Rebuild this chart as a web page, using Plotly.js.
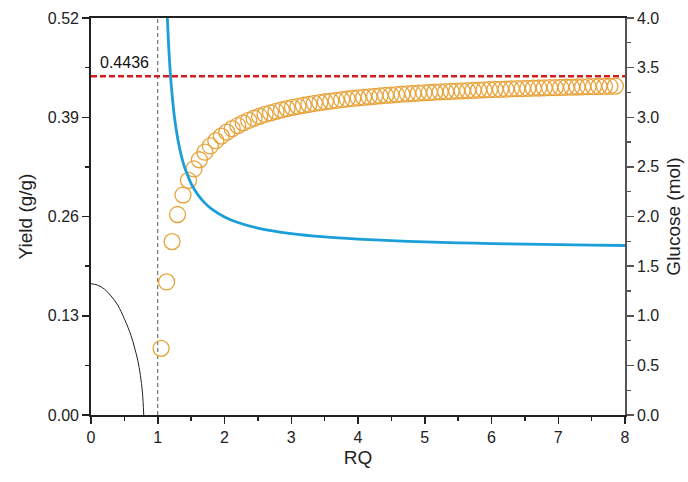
<!DOCTYPE html>
<html>
<head>
<meta charset="utf-8">
<script src="https://cdn.plot.ly/plotly-3.0.1.min.js"></script>
<style>html,body{margin:0;padding:0;background:#fff;}#chart{width:688px;height:482px;}</style>
</head>
<body>
<div id="chart"></div>
<script>
// Yield (g/g) vs RQ, open circles (left axis)
const yieldRQ = [1.050, 1.132, 1.214, 1.296, 1.378, 1.460, 1.542, 1.624, 1.706, 1.788,
  1.870, 1.952, 2.034, 2.116, 2.198, 2.280, 2.362, 2.444, 2.526, 2.608,
  2.690, 2.772, 2.854, 2.936, 3.018, 3.100, 3.182, 3.264, 3.346, 3.428,
  3.510, 3.592, 3.674, 3.756, 3.838, 3.920, 4.002, 4.084, 4.166, 4.248,
  4.330, 4.412, 4.494, 4.576, 4.658, 4.740, 4.822, 4.904, 4.986, 5.068,
  5.150, 5.232, 5.314, 5.396, 5.478, 5.560, 5.642, 5.724, 5.806, 5.888,
  5.970, 6.052, 6.134, 6.216, 6.298, 6.380, 6.462, 6.544, 6.626, 6.708,
  6.790, 6.872, 6.954, 7.036, 7.118, 7.200, 7.282, 7.364, 7.446, 7.528,
  7.610, 7.692, 7.774, 7.856];
const yieldVal = [0.0873, 0.1743, 0.2271, 0.2626, 0.2881, 0.3073, 0.3223, 0.3343, 0.3442, 0.3524,
  0.3593, 0.3653, 0.3705, 0.3750, 0.3791, 0.3826, 0.3858, 0.3887, 0.3913, 0.3937,
  0.3958, 0.3978, 0.3996, 0.4013, 0.4029, 0.4043, 0.4057, 0.4069, 0.4081, 0.4092,
  0.4103, 0.4112, 0.4122, 0.4130, 0.4139, 0.4146, 0.4154, 0.4161, 0.4167, 0.4174,
  0.4180, 0.4186, 0.4191, 0.4197, 0.4202, 0.4207, 0.4211, 0.4216, 0.4220, 0.4224,
  0.4228, 0.4232, 0.4236, 0.4239, 0.4243, 0.4246, 0.4249, 0.4252, 0.4255, 0.4258,
  0.4261, 0.4264, 0.4266, 0.4269, 0.4272, 0.4274, 0.4276, 0.4279, 0.4281, 0.4283,
  0.4285, 0.4287, 0.4289, 0.4291, 0.4293, 0.4295, 0.4296, 0.4298, 0.4300, 0.4302,
  0.4303, 0.4305, 0.4306, 0.4308];

// Glucose (mol) vs RQ, blue line (right axis)
const glucoseRQ = [1.14, 1.16, 1.18, 1.20, 1.25, 1.30, 1.35, 1.40, 1.45, 1.50, 1.60, 1.70, 1.80,
  2.00, 2.20, 2.50, 3.00, 3.50, 4.00, 4.50, 5.00, 5.50, 6.00, 6.50, 7.00, 7.50, 8.00];
const glucoseVal = [4.06, 3.76, 3.527, 3.34, 3.004, 2.78, 2.62, 2.50, 2.41, 2.332, 2.22, 2.14, 2.08,
  1.996, 1.94, 1.884, 1.828, 1.794, 1.772, 1.756, 1.744, 1.735, 1.727, 1.721, 1.716, 1.712, 1.708];

// Thin black curve (left axis)
const lowRQ = [0, 0.10, 0.20, 0.30, 0.40, 0.50, 0.60, 0.65, 0.70, 0.74, 0.77, 0.79];
const lowVal = [0.172, 0.170, 0.165, 0.156, 0.144, 0.126, 0.104, 0.089, 0.072, 0.052, 0.030, 0.0];

// Reference lines
const maxYield = 0.4436;
const maxYieldLabel = "0.4436";
const refLineRQ = [0, 8];
const unitRQ = 1;

const traces = [
  {x: refLineRQ, y: [maxYield, maxYield], type: 'scatter', mode: 'lines',
   line: {color: '#d41c1c', width: 2.5, dash: '6px,3px'}, yaxis: 'y', hoverinfo: 'skip'},
  {x: [unitRQ, unitRQ], y: [0, 0.52], type: 'scatter', mode: 'lines',
   line: {color: '#555555', width: 1, dash: '4px,3px'}, yaxis: 'y', hoverinfo: 'skip'},
  {x: lowRQ, y: lowVal, type: 'scatter', mode: 'lines', line: {color: '#222222', width: 1, shape: 'spline'}, yaxis: 'y'},
  {x: glucoseRQ, y: glucoseVal, type: 'scatter', mode: 'lines',
   line: {color: '#1a9fd9', width: 2.8, shape: 'spline', smoothing: 0.6}, yaxis: 'y2'},
  {x: yieldRQ, y: yieldVal, type: 'scatter', mode: 'markers', yaxis: 'y', cliponaxis: false,
   marker: {symbol: 'circle-open', size: 16, color: '#e8a33a', line: {width: 1.3, color: '#e8a33a'}}}
];

const tickFont = {family: 'Liberation Sans, Arial, sans-serif', size: 16, color: '#222'};
const titleFont = {family: 'Liberation Sans, Arial, sans-serif', size: 19, color: '#222'};

const layout = {
  width: 688, height: 482,
  margin: {l: 91, r: 63, t: 18, b: 67},
  paper_bgcolor: '#ffffff', plot_bgcolor: '#ffffff',
  showlegend: false,
  xaxis: {
    range: [0, 8], tick0: 0, dtick: 1, ticks: 'outside', ticklen: 7, tickwidth: 1.5, tickcolor: '#222',
    showline: true, linewidth: 1.8, linecolor: '#222', mirror: true,
    showgrid: false, zeroline: false, tickfont: tickFont,
    minor: {dtick: 0.5, ticks: 'outside', ticklen: 4, tickwidth: 1.3, tickcolor: '#222', showgrid: false},
    title: {text: 'RQ', font: titleFont, standoff: 6}
  },
  yaxis: {
    range: [0, 0.52], tick0: 0, dtick: 0.13, tickformat: '.2f', ticks: 'outside', ticklen: 7, tickwidth: 1.5, tickcolor: '#222',
    showline: true, linewidth: 1.8, linecolor: '#222',
    showgrid: false, zeroline: false, tickfont: tickFont,
    minor: {dtick: 0.065, ticks: 'outside', ticklen: 4, tickwidth: 1.3, tickcolor: '#222', showgrid: false},
    title: {text: 'Yield (g/g)', font: titleFont, standoff: 10}
  },
  yaxis2: {
    range: [0, 4], tick0: 0, dtick: 0.5, tickformat: '.1f', ticks: 'outside', ticklen: 7, tickwidth: 1.5, tickcolor: '#555',
    showline: true, linewidth: 1.8, linecolor: '#555', overlaying: 'y', side: 'right',
    showgrid: false, zeroline: false, tickfont: tickFont,
    minor: {dtick: 0.25, ticks: 'outside', ticklen: 4, tickwidth: 1.3, tickcolor: '#555', showgrid: false},
    title: {text: 'Glucose (mol)', font: titleFont, standoff: 8}
  },
  annotations: [
    {x: 0.1, y: maxYield, xref: 'x', yref: 'y', text: maxYieldLabel, showarrow: false,
     xanchor: 'left', yanchor: 'bottom', yshift: 3, font: {family: 'Liberation Sans, Arial, sans-serif', size: 16, color: '#111'}}
  ]
};

Plotly.newPlot('chart', traces, layout, {displayModeBar: false, staticPlot: true});
</script>
</body>
</html>
